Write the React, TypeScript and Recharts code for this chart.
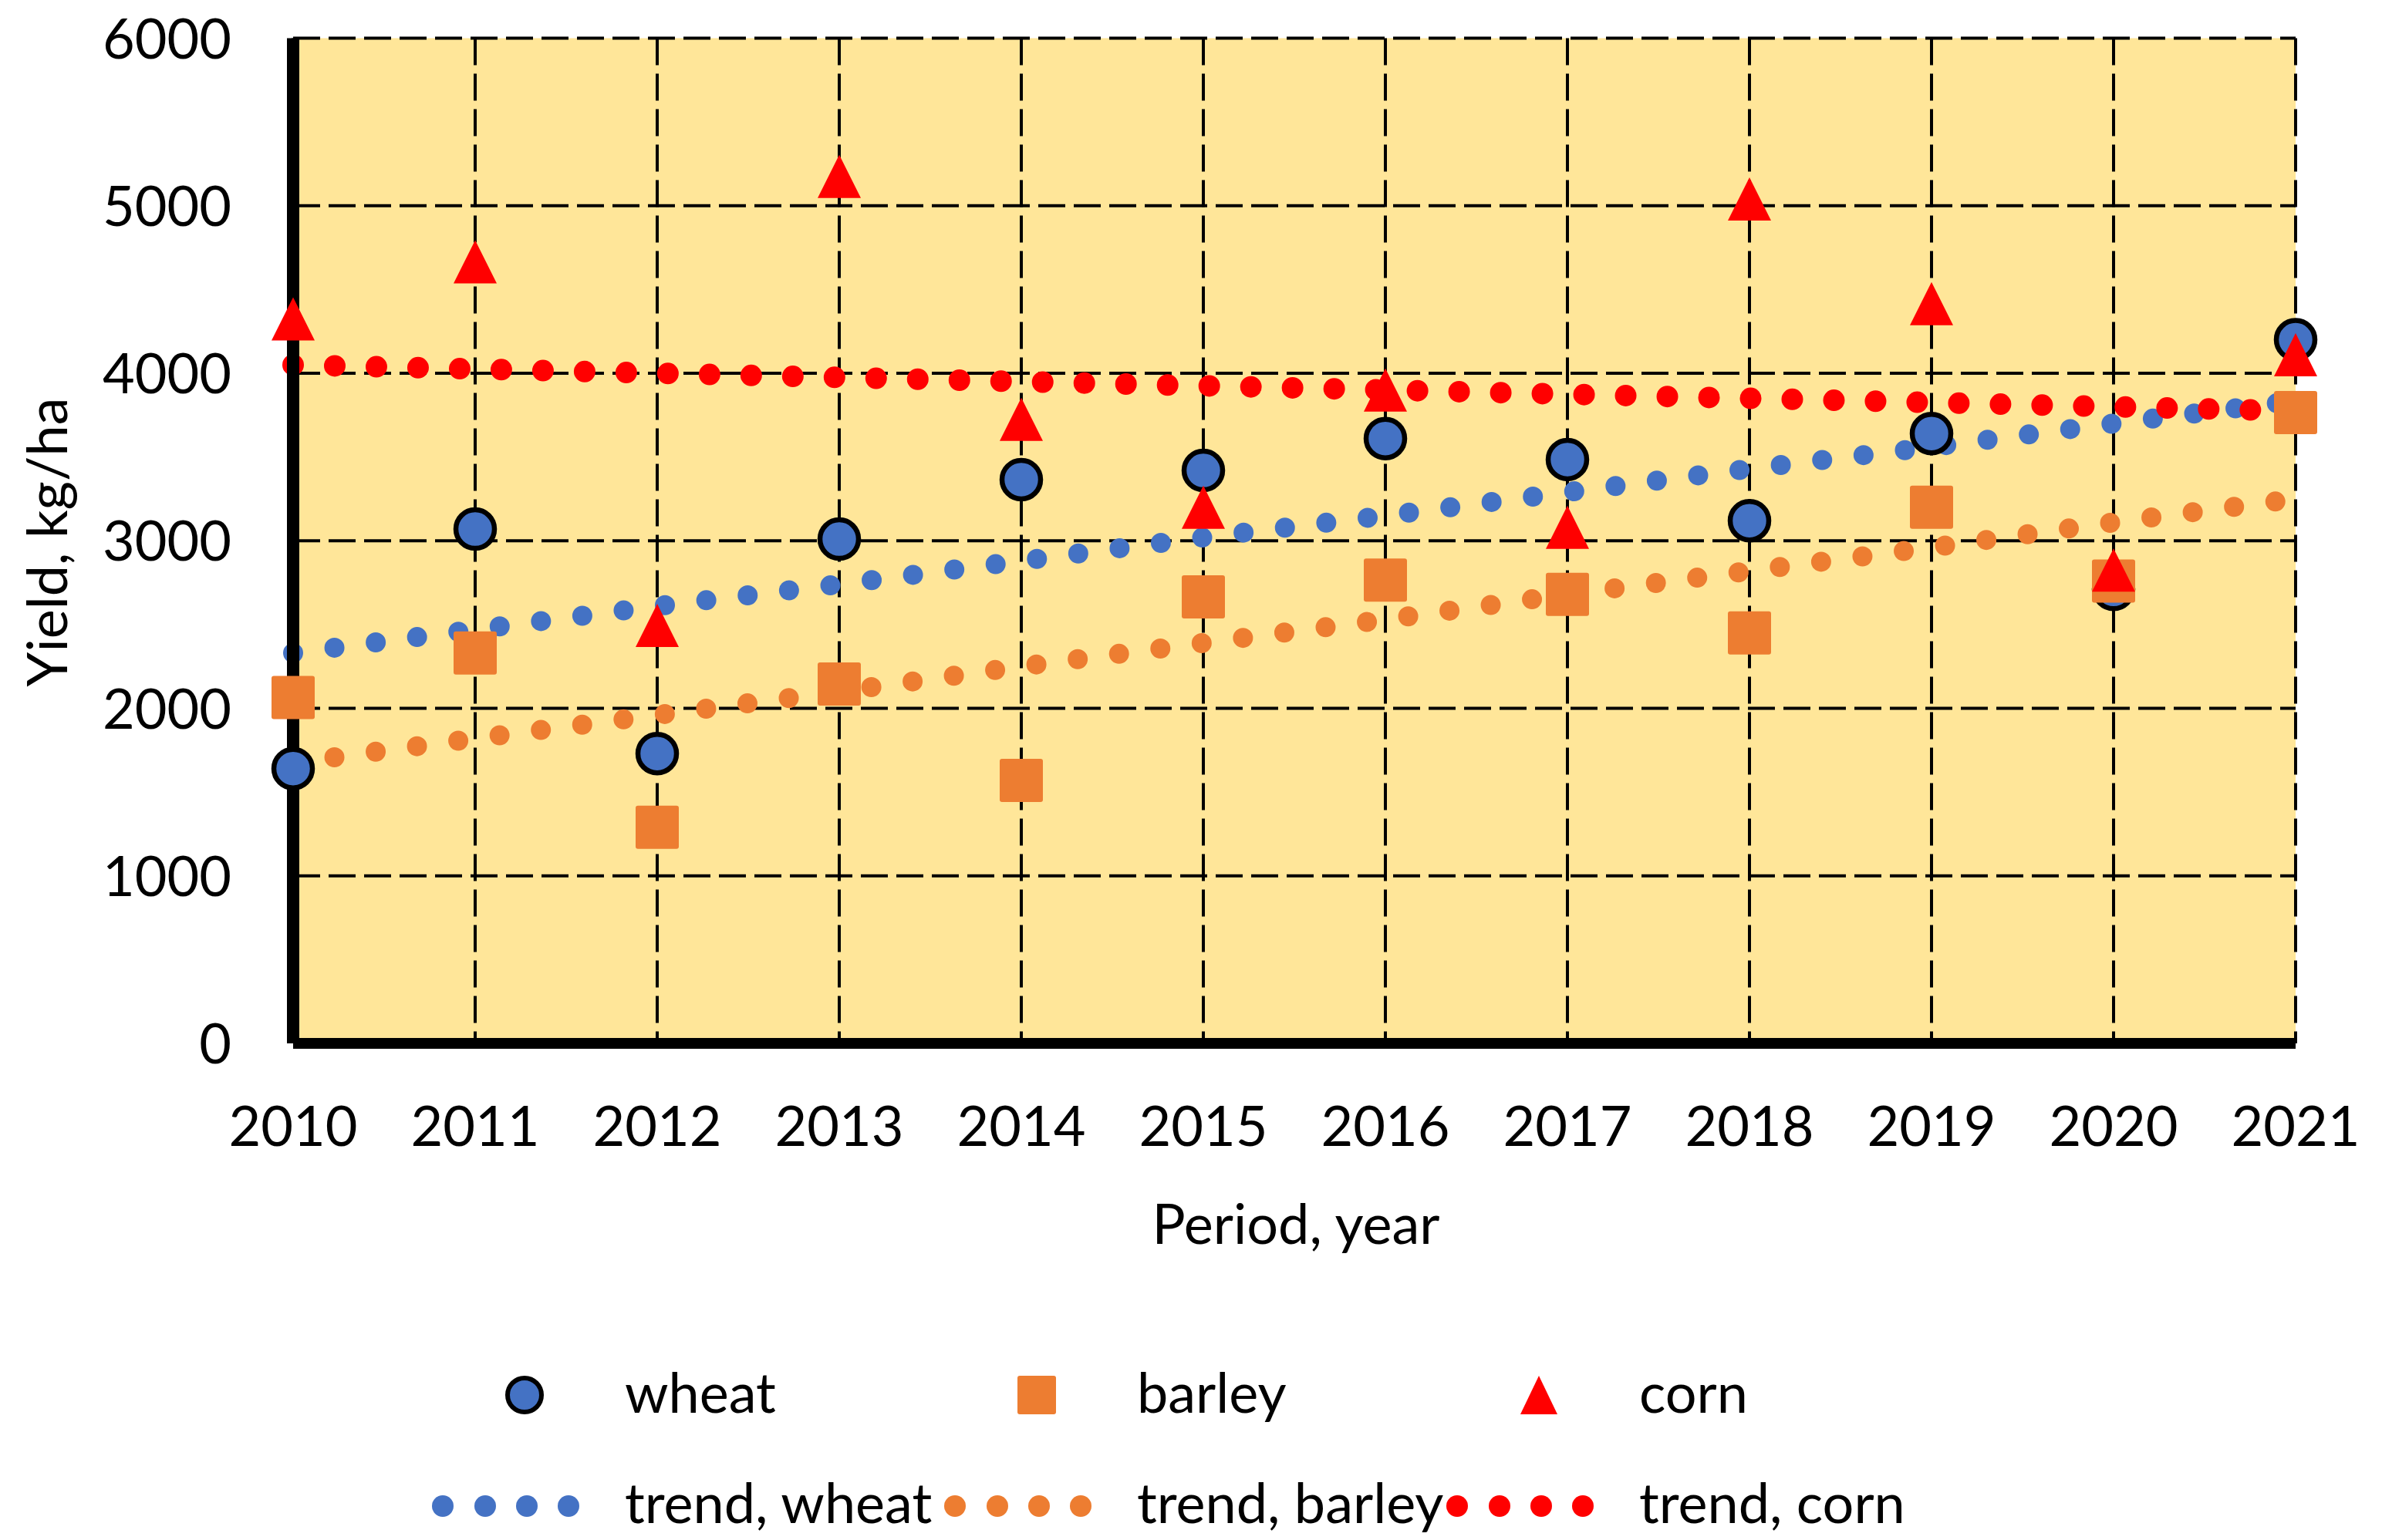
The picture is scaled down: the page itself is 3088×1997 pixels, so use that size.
import React from "react";
import {
  ComposedChart,
  Scatter,
  Line,
  XAxis,
  YAxis,
  CartesianGrid,
} from "recharts";

// values
const years = [2010, 2011, 2012, 2013, 2014, 2015, 2016, 2017, 2018, 2019, 2020, 2021];
const wheat = [1640, 3070, 1730, 3010, 3365, 3420, 3610, 3485, 3120, 3640, 2710, 4200];
const barley = [2065, 2330, 1290, 2145, 1570, 2665, 2765, 2680, 2450, 3200, 2760, 3765];
const corn = [4325, 4665, 2495, 5175, 3725, 3200, 3900, 3080, 5040, 4415, 2825, 4110];
const wheatTrend = [2330, 2470, 2610, 2740, 2880, 3020, 3150, 3290, 3430, 3560, 3700, 3835];
const barleyTrend = [1675, 1820, 1960, 2100, 2250, 2390, 2530, 2680, 2820, 2960, 3110, 3250];
const cornTrend = [4050, 4025, 4000, 3975, 3950, 3925, 3900, 3875, 3850, 3825, 3800, 3775];
const yTicks = [0, 1000, 2000, 3000, 4000, 5000, 6000];

const data = years.map((year, i) => ({
  year,
  wheat: wheat[i],
  barley: barley[i],
  corn: corn[i],
  wheatTrend: wheatTrend[i],
  barleyTrend: barleyTrend[i],
  cornTrend: cornTrend[i],
}));

const BLUE = "#4472C4";
const ORANGE = "#ED7D31";
const RED = "#FF0000";
const FONT = "Lato, 'Open Sans', sans-serif";
const FS = 72;

const W = 3072;
const H = 1981;
const M = { top: 41.5, right: 104, left: 172, bottom: 436 };

const CircleMark = (p: any) => (
  <circle cx={p.cx} cy={p.cy} r={25} fill={BLUE} stroke="#000" strokeWidth={6.5} />
);
const SquareMark = (p: any) => (
  <rect x={p.cx - 28} y={p.cy - 28} width={56} height={56} rx={3} fill={ORANGE} />
);
const TriangleMark = (p: any) => (
  <polygon
    points={`${p.cx},${p.cy - 28} ${p.cx + 28},${p.cy + 28} ${p.cx - 28},${p.cy + 28}`}
    fill={RED}
  />
);

const XTick = (p: any) => (
  <text x={p.x} y={p.y + 133} textAnchor="middle" fontFamily={FONT} fontSize={FS} fill="#000">
    {p.payload.value}
  </text>
);
const YTick = (p: any) => (
  <text x={p.x - 80} y={p.y + 26} textAnchor="end" fontFamily={FONT} fontSize={FS} fill="#000">
    {p.payload.value}
  </text>
);

const legendCols = [
  { x: 802, name: "wheat", color: BLUE, mark: "circle" },
  { x: 1466, name: "barley", color: ORANGE, mark: "square" },
  { x: 2117, name: "corn", color: RED, mark: "triangle" },
];

const Overlay = () => (
  <svg
    width={W}
    height={H}
    style={{ position: "absolute", left: 0, top: 0, pointerEvents: "none" }}
  >
    <text
      x={79}
      y={695}
      transform="rotate(-90, 79, 695)"
      textAnchor="middle"
      fontFamily={FONT}
      fontSize={FS}
    >
      Yield, kg/ha
    </text>
    <text x={1672} y={1605} textAnchor="middle" fontFamily={FONT} fontSize={FS}>
      Period, year
    </text>
    {legendCols.map((c) => {
      const mx = c.x - 130;
      const my = 1801;
      return (
        <g key={c.name}>
          {c.mark === "circle" && (
            <circle cx={mx} cy={my} r={22} fill={c.color} stroke="#000" strokeWidth={6} />
          )}
          {c.mark === "square" && (
            <rect x={mx - 25} y={my - 25} width={50} height={50} rx={3} fill={c.color} />
          )}
          {c.mark === "triangle" && (
            <polygon
              points={`${mx},${my - 25} ${mx + 24},${my + 25} ${mx - 24},${my + 25}`}
              fill={c.color}
            />
          )}
          <text x={c.x} y={1824} fontFamily={FONT} fontSize={FS}>
            {c.name}
          </text>
          {[-236, -181, -127, -73].map((dx) => (
            <circle key={dx} cx={c.x + dx} cy={1945} r={14} fill={c.color} />
          ))}
          <text x={c.x} y={1967} fontFamily={FONT} fontSize={FS}>
            {"trend, " + c.name}
          </text>
        </g>
      );
    })}
  </svg>
);

export default function App() {
  return (
    <div style={{ position: "relative", width: W, height: H }}>
      <ComposedChart
        width={W}
        height={H}
        data={data}
        margin={M}
        style={{ overflow: "visible" }}
      >
        <CartesianGrid
          fill="#FFE699"
          stroke="#000"
          strokeWidth={4}
          strokeDasharray="35 11"
        />
        <XAxis
          dataKey="year"
          type="number"
          domain={[2010, 2021]}
          ticks={years}
          interval={0}
          height={200}
          tickLine={false}
          tickSize={0}
          tickMargin={0}
          axisLine={{ stroke: "#000", strokeWidth: 14 }}
          tick={<XTick />}
        />
        <YAxis
          domain={[0, 6000]}
          ticks={yTicks}
          interval={0}
          width={200}
          tickLine={false}
          tickSize={0}
          tickMargin={0}
          axisLine={{ stroke: "#000", strokeWidth: 16 }}
          tick={<YTick />}
        />
        <Scatter dataKey="wheat" shape={CircleMark} isAnimationActive={false} />
        <Scatter dataKey="barley" shape={SquareMark} isAnimationActive={false} />
        <Scatter dataKey="corn" shape={TriangleMark} isAnimationActive={false} />
        <Line
          dataKey="wheatTrend"
          type="linear"
          stroke={BLUE}
          strokeWidth={26}
          strokeDasharray="0 54"
          strokeLinecap="round"
          dot={false}
          activeDot={false}
          isAnimationActive={false}
        />
        <Line
          dataKey="barleyTrend"
          type="linear"
          stroke={ORANGE}
          strokeWidth={26}
          strokeDasharray="0 54"
          strokeLinecap="round"
          dot={false}
          activeDot={false}
          isAnimationActive={false}
        />
        <Line
          dataKey="cornTrend"
          type="linear"
          stroke={RED}
          strokeWidth={28}
          strokeDasharray="0 54"
          strokeLinecap="round"
          dot={false}
          activeDot={false}
          isAnimationActive={false}
        />
      </ComposedChart>
      <Overlay />
    </div>
  );
}
